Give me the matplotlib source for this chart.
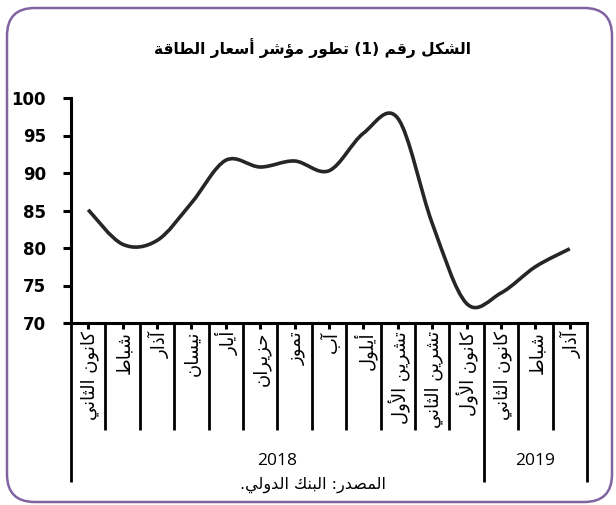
import matplotlib
matplotlib.use("Agg")
import matplotlib.pyplot as plt
from matplotlib.path import Path
from matplotlib.patches import PathPatch, FancyBboxPatch
import matplotlib.transforms as mtransforms
import numpy as np

# ---------------- data ----------------
months = ["كانون الثاني", "شباط", "آذار", "نيسان", "أيار", "حزيران", "تموز", "آب",
          "أيلول", "تشرين الأول", "تشرين الثاني", "كانون الأول",
          "كانون الثاني", "شباط", "آذار"]
values = [85.1, 80.5, 81.0, 86.0, 91.7, 90.8, 91.6, 90.3, 95.3, 97.3, 83.3, 72.6, 74.0, 77.5, 79.9]
years = ["2018", "2019"]
year_counts = [12, 3]
yticks = [70, 75, 80, 85, 90, 95, 100]
title = "الشكل رقم (1) تطور مؤشر أسعار الطاقة"
source = "المصدر: البنك الدولي."

# ---------------- minimal Arabic shaping ----------------
FOUR = {'ئ': 0xFE89, 'ب': 0xFE8F, 'ت': 0xFE95, 'ث': 0xFE99, 'ج': 0xFE9D, 'ح': 0xFEA1,
        'خ': 0xFEA5, 'س': 0xFEB1, 'ش': 0xFEB5, 'ص': 0xFEB9, 'ض': 0xFEBD, 'ط': 0xFEC1,
        'ظ': 0xFEC5, 'ع': 0xFEC9, 'غ': 0xFECD, 'ف': 0xFED1, 'ق': 0xFED5, 'ك': 0xFED9,
        'ل': 0xFEDD, 'م': 0xFEE1, 'ن': 0xFEE5, 'ه': 0xFEE9, 'ي': 0xFEF1}
TWO = {'آ': 0xFE81, 'أ': 0xFE83, 'ؤ': 0xFE85, 'إ': 0xFE87, 'ا': 0xFE8D, 'ة': 0xFE93,
       'د': 0xFEA9, 'ذ': 0xFEAB, 'ر': 0xFEAD, 'ز': 0xFEAF, 'و': 0xFEED, 'ى': 0xFEEF}
LAMALEF = {'آ': 0xFEF5, 'أ': 0xFEF7, 'إ': 0xFEF9, 'ا': 0xFEFB}


def shape(s):
    units = []
    i = 0
    while i < len(s):
        c = s[i]
        if c == 'ل' and i + 1 < len(s) and s[i + 1] in LAMALEF:
            units.append(('LA', s[i + 1]))
            i += 2
            continue
        units.append(('C', c))
        i += 1

    def is_ar(u):
        return u[0] == 'LA' or u[1] in FOUR or u[1] in TWO

    def dual(u):
        return u[0] == 'C' and u[1] in FOUR

    out = []
    for k, u in enumerate(units):
        if not is_ar(u):
            out.append(u[1])
            continue
        prev_j = k > 0 and dual(units[k - 1])
        if u[0] == 'LA':
            out.append(chr(LAMALEF[u[1]] + (1 if prev_j else 0)))
            continue
        c = u[1]
        next_j = dual(u) and k + 1 < len(units) and is_ar(units[k + 1])
        if c in FOUR:
            b = FOUR[c]
            if prev_j and next_j:
                out.append(chr(b + 3))
            elif prev_j:
                out.append(chr(b + 1))
            elif next_j:
                out.append(chr(b + 2))
            else:
                out.append(chr(b))
        else:
            b = TWO[c]
            out.append(chr(b + 1) if prev_j else chr(b))
    shaped = ''.join(out)
    tokens = []
    for ch in shaped:
        if ch.isdigit() and tokens and tokens[-1].isdigit():
            tokens[-1] += ch
        else:
            tokens.append(ch)
    mirror = {'(': ')', ')': '('}
    return ''.join(mirror.get(t, t) for t in reversed(tokens))


AR_FONT = ['DejaVu Sans']

# ---------------- figure ----------------
W, H = 616, 505
fig = plt.figure(figsize=(W / 100, H / 100), dpi=100)
fig.patch.set_facecolor('white')


def fy(py):
    return 1 - py / H


def fx(px):
    return px / W


border = FancyBboxPatch((fx(7), fy(502)), fx(605), 494 / H,
                        boxstyle="round,pad=0,rounding_size=0.045",
                        transform=fig.transFigure, fill=False,
                        edgecolor='#8064A2', linewidth=1.8, mutation_aspect=W / H)
fig.patches.append(border)

ax_l, ax_r, ax_t, ax_b = 71, 587, 98, 323
ax = fig.add_axes([fx(ax_l), fy(ax_b), fx(ax_r - ax_l), (ax_b - ax_t) / H])
n = len(values)
ax.set_xlim(-0.5, n - 0.5)
ax.set_ylim(70, 100)

for sp in ['top', 'right']:
    ax.spines[sp].set_visible(False)
ax.spines['left'].set_linewidth(2.2)
ax.spines['bottom'].set_linewidth(2.2)

ax.set_yticks(yticks)
ax.set_yticklabels([str(v) for v in yticks], fontsize=12, fontweight='bold', family='DejaVu Sans')
ax.tick_params(axis='y', length=6, width=2.2, pad=12, direction='out')
ax.set_xticks(np.arange(n))
ax.set_xticklabels([])
ax.tick_params(axis='x', length=4, width=2.2, direction='out')

# smoothed line (Excel-like Bezier)
xs = np.arange(n, dtype=float)
ys = np.array(values, dtype=float)
pts = np.column_stack([xs, ys])
verts = [tuple(pts[0])]
codes = [Path.MOVETO]
for i in range(n - 1):
    p0 = pts[i - 1] if i > 0 else pts[i]
    p1 = pts[i]
    p2 = pts[i + 1]
    p3 = pts[i + 2] if i + 2 < n else pts[i + 1]
    c1 = p1 + (p2 - p0) / 6.0
    c2 = p2 - (p3 - p1) / 6.0
    verts += [tuple(c1), tuple(c2), tuple(p2)]
    codes += [Path.CURVE4] * 3
ax.add_patch(PathPatch(Path(verts, codes), fill=False, edgecolor='#262626',
                       linewidth=2.6, capstyle='butt', joinstyle='round'))

# category separators
trans = mtransforms.blended_transform_factory(ax.transData, fig.transFigure)
long_idx = {0, year_counts[0], n}
for b in range(n + 1):
    bottom = 482 if b in long_idx else 430
    ax.plot([b - 0.5, b - 0.5], [fy(ax_b), fy(bottom)], color='black', lw=2.0,
            transform=trans, clip_on=False, solid_capstyle='butt')

# month labels
for i, m in enumerate(months):
    ax.text(i + 0.05, fy(331), shape(m), rotation=90, ha='center', va='top',
            fontsize=13, family=AR_FONT, transform=trans)

# year labels
start = 0
for yr, cnt in zip(years, year_counts):
    ax.text(start + cnt / 2 - 0.5, fy(461), yr, ha='center', va='center',
            fontsize=12.5, family='Open Sans', transform=trans)
    start += cnt

fig.text(fx(313), fy(48), shape(title), ha='center', va='center', fontsize=11.2,
         fontweight='bold', family=AR_FONT)
fig.text(fx(313), fy(485), shape(source), ha='center', va='center', fontsize=11.5,
         family=AR_FONT)

fig.savefig('out.png', dpi=100)
